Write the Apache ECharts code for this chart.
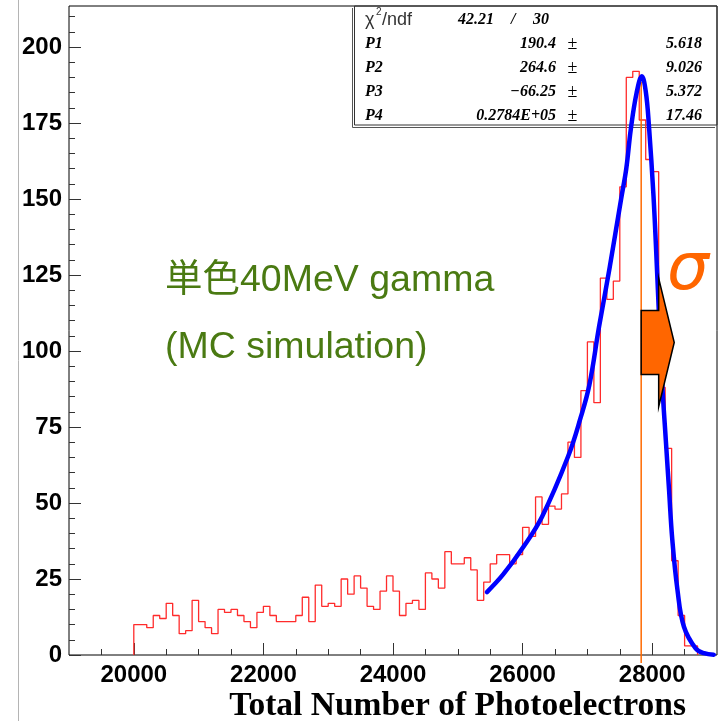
<!DOCTYPE html>
<html>
<head>
<meta charset="utf-8">
<title>Total Number of Photoelectrons</title>
<script src="https://cdn.jsdelivr.net/npm/echarts@6/dist/echarts.min.js"></script>
<style>
  html, body { margin: 0; padding: 0; background: #ffffff; }
  #chart { width: 724px; height: 721px; }
</style>
</head>
<body>
<div id="chart"></div>
<script>
// Histogram: counts per 100-photoelectron bin, first bin starts at 20000
const binStart = 20000;
const binWidth = 100;
const binCounts = [
  10, 10, 9, 13, 12, 17, 13, 7, 8, 18,
  11, 9, 7, 15, 14, 15, 13, 11, 9, 14,
  16, 13, 11, 11, 11, 13, 19, 11, 23, 16,
  17, 16, 25, 20, 26, 22, 16, 15, 21, 26,
  21, 13, 17, 18, 15, 27, 25, 22, 34, 30,
  30, 32, 28, 18, 24, 30, 33, 33, 30, 33,
  42, 39, 52, 43, 49, 48, 53, 70, 65, 87,
  103, 83, 124, 117, 123, 154, 190, 192, 176, 163,
  159, 88, 68, 31, 13, 3, 3
];

// Fitted curve sampled along the fit range
const fitX = [25450, 25700, 26000, 26300, 26700, 26900, 27030, 27180, 27340, 27520,
              27600, 27670, 27760, 27840, 27900, 27950, 28020, 28080, 28150, 28210,
              28260, 28310, 28390, 28490, 28670, 28800, 28950];
const fitY = [20.7, 26.5, 35.2, 45.5, 65.2, 78.4, 88.8, 108, 127, 150,
              160, 173, 185, 190.4, 185.5, 174, 151, 124, 91, 70.7,
              54.3, 38, 21.4, 9.3, 2.2, 0.6, 0.1];

// Peak marker position and its vertical extent
const peakX = 27830;
const peakLineY = [-2.6, 188.5];

// Axis ticks
const xMajorTicks = [20000, 22000, 24000, 26000, 28000];
const xMinorStep = 500;
const yMajorTicks = [0, 25, 50, 75, 100, 125, 150, 175, 200];
const yMinorStep = 5;
const xRange = [19000, 29000];
const yRange = [0, 213.5];

// Fit statistics box
const statChi2 = '42.21';
const statNdf = '30';
const statNames = ['P1', 'P2', 'P3', 'P4'];
const statValues = ['190.4', '264.6', '\u221266.25', '0.2784E+05'];
const statErrors = ['5.618', '9.026', '5.372', '17.46'];

const xTitle = 'Total Number of Photoelectrons';
const noteLines = ['単色40MeV gamma', '(MC simulation)'];

// ---- derived series data ----
const histData = [[binStart, 0]];
binCounts.forEach((c, i) => histData.push([binStart + i * binWidth, c]));
histData.push([binStart + binCounts.length * binWidth, 0]);

const fitData = fitX.map((x, i) => [x, fitY[i]]);

const xMinorTicks = [];
for (let v = xRange[0]; v <= xRange[1]; v += xMinorStep) {
  if (xMajorTicks.indexOf(v) < 0 && v > xRange[0] && v < xRange[1]) xMinorTicks.push(v);
}
const yMinorTicks = [];
for (let v = yRange[0] + yMinorStep; v < yRange[1]; v += yMinorStep) {
  if (yMajorTicks.indexOf(v) < 0) yMinorTicks.push(v);
}

const tickColor = '#333333';
const labelFont = { fontFamily: 'Liberation Sans, Arial, sans-serif', fontWeight: 'bold', fontSize: 24, color: '#000' };
const plainNumber = v => String(v);

const chart = echarts.init(document.getElementById('chart'), null, { renderer: 'canvas' });

const option = {
  animation: false,
  backgroundColor: '#ffffff',
  grid: { left: 69, top: 6, right: 7, bottom: 66, show: true, borderColor: '#000', borderWidth: 1, backgroundColor: 'transparent' },
  xAxis: [
    {
      type: 'value', min: xRange[0], max: xRange[1], position: 'bottom', offset: 0,
      axisLine: { show: false },
      splitLine: { show: false },
      axisTick: { show: true, inside: true, length: 12, customValues: xMajorTicks, lineStyle: { color: tickColor, width: 1 } },
      axisLabel: Object.assign({ show: true, margin: 8, customValues: xMajorTicks, formatter: plainNumber }, labelFont)
    },
    {
      type: 'value', min: xRange[0], max: xRange[1], position: 'bottom', offset: 0,
      axisLine: { show: false },
      splitLine: { show: false },
      axisTick: { show: true, inside: true, length: 6, customValues: xMinorTicks, lineStyle: { color: tickColor, width: 1 } },
      axisLabel: { show: false }
    }
  ],
  yAxis: [
    {
      type: 'value', min: yRange[0], max: yRange[1], position: 'left', offset: 0,
      axisLine: { show: false },
      splitLine: { show: false },
      axisTick: { show: true, inside: true, length: 12, customValues: yMajorTicks, lineStyle: { color: tickColor, width: 1 } },
      axisLabel: Object.assign({ show: true, margin: 7, customValues: yMajorTicks, formatter: plainNumber }, labelFont)
    },
    {
      type: 'value', min: yRange[0], max: yRange[1], position: 'left', offset: 0,
      axisLine: { show: false },
      splitLine: { show: false },
      axisTick: { show: true, inside: true, length: 6, customValues: yMinorTicks, lineStyle: { color: tickColor, width: 1 } },
      axisLabel: { show: false }
    }
  ],
  series: [
    {
      name: 'histogram', type: 'line', step: 'end', data: histData,
      xAxisIndex: 0, yAxisIndex: 0,
      symbol: 'none', z: 2,
      lineStyle: { color: '#ff2b2b', width: 1.3 }
    },
    {
      name: 'peak', type: 'line', data: peakLineY.map(y => [peakX, y]),
      xAxisIndex: 0, yAxisIndex: 0,
      symbol: 'none', clip: false, z: 3,
      lineStyle: { color: '#ff6a00', width: 1.5 }
    },
    {
      name: 'fit', type: 'line', data: fitData,
      xAxisIndex: 0, yAxisIndex: 0,
      symbol: 'none', smooth: 0.4, z: 5,
      lineStyle: { color: '#0000ff', width: 4.5, join: 'round', cap: 'round' }
    }
  ]
};
chart.setOption(option);

// ---- annotations ----
const px = (x, y) => chart.convertToPixel({ xAxisIndex: 0, yAxisIndex: 0 }, [x, y]);

// block arrow pointing right from the peak line (data units)
const arrowShape = [
  [peakX, 113.3], [28100, 113.3], [28100, 123.9], [28340, 102.8],
  [28100, 81.7], [28100, 92.3], [peakX, 92.3]
];
const arrowPts = arrowShape.map(p => px(p[0], p[1]));

const statFont = 'bold italic 16px "Liberation Serif", "Times New Roman", serif';
const statRows = [44, 68, 92, 116];
const noteFont = '37.5px "Liberation Sans", "Noto Sans CJK JP", sans-serif';
const graphics = [];

// thin gray guide line at the far left
graphics.push({ type: 'line', shape: { x1: 18.5, y1: 0, x2: 18.5, y2: 721 }, style: { stroke: '#b4b4b4', lineWidth: 1 }, z: 0 });

// statistics box with offset shadow
graphics.push({ type: 'polyline', shape: { points: [[352.5, 8], [352.5, 127.5], [715, 127.5]] }, style: { stroke: '#555', lineWidth: 1, fill: null }, z: 1 });
graphics.push({ type: 'rect', shape: { x: 354.5, y: 6, width: 362.5, height: 119 }, style: { stroke: '#333', lineWidth: 1, fill: null }, z: 1 });

graphics.push({ type: 'text', x: 365, y: 20, style: { text: '\u03c7', font: '18px "Liberation Sans", sans-serif', fill: '#333', verticalAlign: 'middle' }, z: 20 });
graphics.push({ type: 'text', x: 376, y: 12, style: { text: '2', font: '10px "Liberation Sans", sans-serif', fill: '#333', verticalAlign: 'middle' }, z: 20 });
graphics.push({ type: 'text', x: 382, y: 20, style: { text: '/ndf', font: '18px "Liberation Sans", sans-serif', fill: '#333', verticalAlign: 'middle' }, z: 20 });
graphics.push({ type: 'text', x: 458, y: 20, style: { text: statChi2, font: statFont, fill: '#000', verticalAlign: 'middle' }, z: 20 });
graphics.push({ type: 'text', x: 511, y: 20, style: { text: '/', font: statFont, fill: '#000', verticalAlign: 'middle' }, z: 20 });
graphics.push({ type: 'text', x: 533, y: 20, style: { text: statNdf, font: statFont, fill: '#000', verticalAlign: 'middle' }, z: 20 });

statNames.forEach((n, i) => {
  const y = statRows[i];
  graphics.push({ type: 'text', x: 365, y: y, style: { text: n, font: statFont, fill: '#000', verticalAlign: 'middle' }, z: 20 });
  graphics.push({ type: 'text', x: 556, y: y, style: { text: statValues[i], font: statFont, fill: '#000', align: 'right', verticalAlign: 'middle' }, z: 20 });
  graphics.push({ type: 'text', x: 572.5, y: y, style: { text: '\u00b1', font: '18px "Liberation Serif", serif', fill: '#000', align: 'center', verticalAlign: 'middle' }, z: 20 });
  graphics.push({ type: 'text', x: 702, y: y, style: { text: statErrors[i], font: statFont, fill: '#000', align: 'right', verticalAlign: 'middle' }, z: 20 });
});

// annotation text
graphics.push({ type: 'text', x: 165, y: 281, style: { text: noteLines[0], font: noteFont, fill: '#4a7a12', verticalAlign: 'middle' }, z: 20 });
graphics.push({ type: 'text', x: 165, y: 348, style: { text: noteLines[1], font: noteFont, fill: '#4a7a12', verticalAlign: 'middle' }, z: 20 });

// arrow and sigma
graphics.push({ type: 'polygon', shape: { points: arrowPts }, style: { fill: '#ff6600', stroke: '#000', lineWidth: 1.5 }, z: 30 });
graphics.push({ type: 'text', x: 667, y: 272, style: { text: '\u03c3', font: 'italic 66px "DejaVu Sans", sans-serif', fill: '#ff6600', verticalAlign: 'middle' }, z: 30 });

// x axis title
graphics.push({ type: 'text', x: 686, y: 706, style: { text: xTitle, font: 'bold 33.5px "Liberation Serif", "Times New Roman", serif', fill: '#000', align: 'right', verticalAlign: 'middle' }, z: 20 });

chart.setOption({ graphic: { elements: graphics } });
</script>
</body>
</html>
